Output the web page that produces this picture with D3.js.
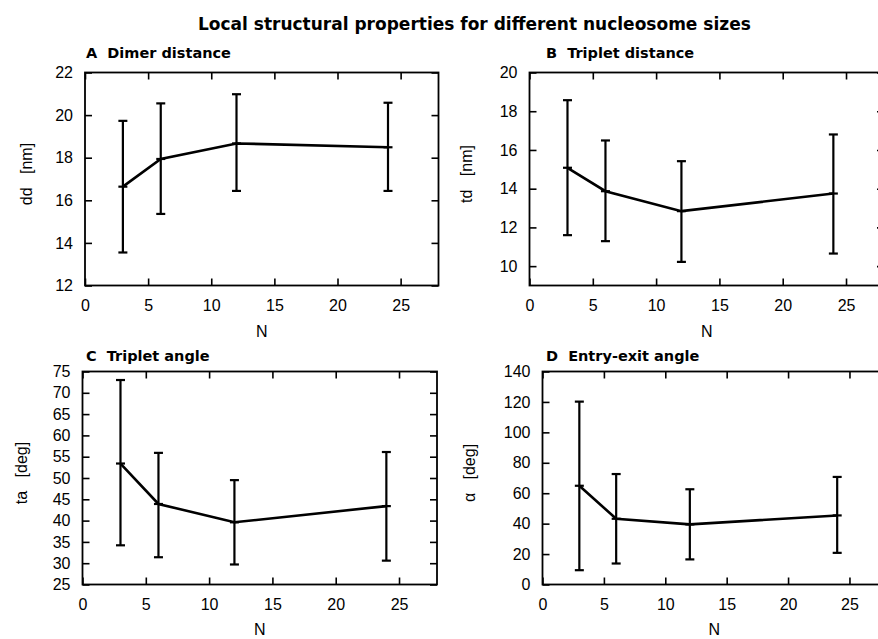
<!DOCTYPE html>
<html>
<head>
<meta charset="utf-8">
<script src="https://cdn.jsdelivr.net/npm/d3@7"></script>
<style>
  html, body { margin: 0; padding: 0; background: #fff; }
  svg { display: block; }
  .tick text { font-family: "Liberation Sans", Arial, sans-serif; font-size: 16px; fill: #000; }
  .axis-label { font-family: "Liberation Sans", Arial, sans-serif; font-size: 16px; fill: #000; white-space: pre; }
  .panel-title { font-family: "DejaVu Sans", sans-serif; font-weight: bold; font-size: 14.5px; fill: #000; white-space: pre; }
  .main-title { font-family: "DejaVu Sans", sans-serif; font-weight: bold; font-size: 17px; fill: #000; }
</style>
</head>
<body>
<div id="chart"></div>
<script>
// Nucleosome counts per fibre (shared x values)
const sizes = [3, 6, 12, 24];

// A: dimer distance dd [nm] — mean, lower, upper
const dimerMean  = [16.64, 17.94, 18.67, 18.49];
const dimerLow   = [13.55, 15.36, 16.44, 16.44];
const dimerHigh  = [19.73, 20.55, 20.98, 20.58];

// B: triplet distance td [nm]
const tripDistMean = [15.08, 13.87, 12.84, 13.75];
const tripDistLow  = [11.60, 11.29, 10.22, 10.65];
const tripDistHigh = [18.57, 16.49, 15.42, 16.80];

// C: triplet angle ta [deg]
const tripAngMean = [53.4, 43.9, 39.6, 43.4];
const tripAngLow  = [34.2, 31.4, 29.7, 30.6];
const tripAngHigh = [73.0, 55.9, 49.5, 56.1];

// D: entry-exit angle alpha [deg]
const entryMean = [64.9, 43.2, 39.5, 45.4];
const entryLow  = [9.4, 13.8, 16.5, 20.8];
const entryHigh = [120.2, 72.6, 62.6, 70.7];

// Axis tick values
const xTicks = [0, 5, 10, 15, 20, 25];
const dimerTicks = [12, 14, 16, 18, 20, 22];
const tripDistTicks = [10, 12, 14, 16, 18, 20];
const tripAngTicks = [25, 30, 35, 40, 45, 50, 55, 60, 65, 70, 75];
const entryTicks = [0, 20, 40, 60, 80, 100, 120, 140];

const W = 878, H = 639;
const svg = d3.select("#chart").append("svg")
  .attr("width", W).attr("height", H)
  .attr("viewBox", `0 0 ${W} ${H}`);

svg.append("text").attr("class", "main-title")
  .attr("x", 198).attr("y", 30)
  .text("Local structural properties for different nucleosome sizes");

const panels = [
  { title: "A  Dimer distance", ylabel: "dd   [nm]", titleX: 86, titleY: 58,
    box: { l: 85, r: 438.5, t: 72.5, b: 285.5 }, yDomain: [12, 22], yTicks: dimerTicks,
    mean: dimerMean, low: dimerLow, high: dimerHigh, ylabelX: 32, xlabelY: 337 },
  { title: "B  Triplet distance", ylabel: "td   [nm]", titleX: 546, titleY: 58,
    box: { l: 529.5, r: 884, t: 72.5, b: 285.5 }, yDomain: [9, 20], yTicks: tripDistTicks,
    mean: tripDistMean, low: tripDistLow, high: tripDistHigh, ylabelX: 472, xlabelY: 337 },
  { title: "C  Triplet angle", ylabel: "ta   [deg]", titleX: 86, titleY: 360.5,
    box: { l: 82.5, r: 437, t: 371.5, b: 584.5 }, yDomain: [25, 75], yTicks: tripAngTicks,
    mean: tripAngMean, low: tripAngLow, high: tripAngHigh, ylabelX: 27, xlabelY: 635 },
  { title: "D  Entry-exit angle", ylabel: "\u03b1   [deg]", titleX: 546, titleY: 360.5,
    box: { l: 542.5, r: 886.3, t: 371.5, b: 584.5 }, yDomain: [0, 140], yTicks: entryTicks,
    mean: entryMean, low: entryLow, high: entryHigh, ylabelX: 475, xlabelY: 635 }
];

const tickLen = 7;

panels.forEach(p => {
  const g = svg.append("g");
  const { l, r, t, b } = p.box;
  const x = d3.scaleLinear().domain([0, 28]).range([l, r]);
  const y = d3.scaleLinear().domain(p.yDomain).range([b, t]);

  // bottom axis with labels, ticks pointing inward
  g.append("g").attr("transform", `translate(0,${b})`)
    .call(d3.axisBottom(x).tickValues(xTicks).tickSize(-tickLen).tickPadding(14).tickFormat(d3.format("d")))
    .call(a => a.select(".domain").remove());
  // top mirror ticks
  g.append("g").attr("transform", `translate(0,${t})`)
    .call(d3.axisTop(x).tickValues(xTicks).tickSize(-tickLen).tickFormat(""))
    .call(a => a.select(".domain").remove());
  // left axis with labels
  g.append("g").attr("transform", `translate(${l},0)`)
    .call(d3.axisLeft(y).tickValues(p.yTicks).tickSize(-tickLen).tickPadding(12).tickFormat(d3.format("d")))
    .call(a => a.select(".domain").remove());
  // right mirror ticks
  g.append("g").attr("transform", `translate(${r},0)`)
    .call(d3.axisRight(y).tickValues(p.yTicks).tickSize(-tickLen).tickFormat(""))
    .call(a => a.select(".domain").remove());

  g.selectAll(".tick line").attr("stroke", "#000").attr("stroke-width", 1.6);

  // plot frame
  g.append("rect")
    .attr("x", l).attr("y", t).attr("width", r - l).attr("height", b - t)
    .attr("fill", "none").attr("stroke", "#000").attr("stroke-width", 1.8);

  const pts = sizes.map((n, i) => ({ n, m: p.mean[i], lo: p.low[i], hi: p.high[i] }));

  // error bars
  const eb = g.append("g").attr("stroke", "#000").attr("stroke-width", 2.2).attr("fill", "none");
  eb.selectAll("line.v").data(pts).join("line").attr("class", "v")
    .attr("x1", d => x(d.n)).attr("x2", d => x(d.n))
    .attr("y1", d => y(d.lo)).attr("y2", d => y(d.hi));
  eb.selectAll("line.ct").data(pts).join("line").attr("class", "ct")
    .attr("x1", d => x(d.n) - 4.5).attr("x2", d => x(d.n) + 4.5)
    .attr("y1", d => y(d.hi)).attr("y2", d => y(d.hi));
  eb.selectAll("line.cb").data(pts).join("line").attr("class", "cb")
    .attr("x1", d => x(d.n) - 4.5).attr("x2", d => x(d.n) + 4.5)
    .attr("y1", d => y(d.lo)).attr("y2", d => y(d.lo));
  eb.selectAll("line.cm").data(pts).join("line").attr("class", "cm")
    .attr("x1", d => x(d.n) - 4.5).attr("x2", d => x(d.n) + 4.5)
    .attr("y1", d => y(d.m)).attr("y2", d => y(d.m));

  // mean line
  g.append("path").datum(pts)
    .attr("fill", "none").attr("stroke", "#000").attr("stroke-width", 2.6)
    .attr("stroke-linejoin", "miter")
    .attr("d", d3.line().x(d => x(d.n)).y(d => y(d.m)));

  // titles and axis labels
  g.append("text").attr("class", "panel-title")
    .attr("x", p.titleX).attr("y", p.titleY).text(p.title);
  g.append("text").attr("class", "axis-label")
    .attr("x", (l + r) / 2).attr("y", p.xlabelY).attr("text-anchor", "middle").text("N");
  g.append("text").attr("class", "axis-label")
    .attr("transform", `translate(${p.ylabelX},${(t + b) / 2 - 5}) rotate(-90)`)
    .attr("text-anchor", "middle").text(p.ylabel);
});
</script>
</body>
</html>
